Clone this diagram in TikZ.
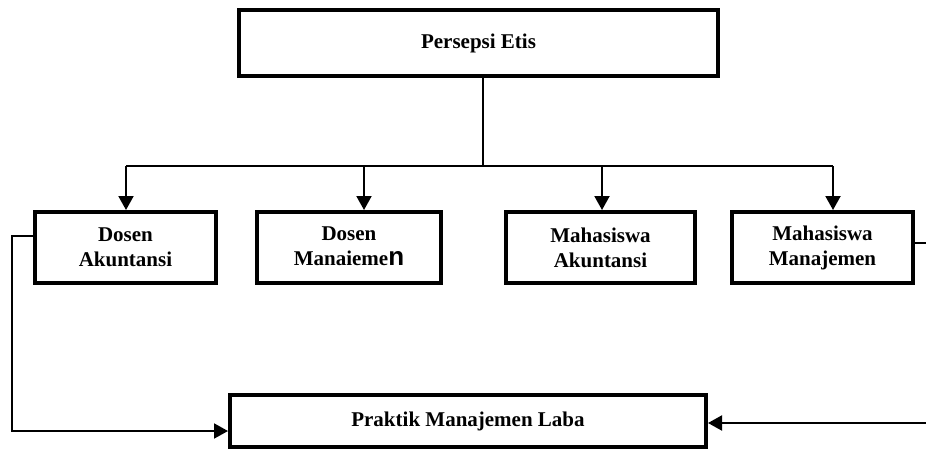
\documentclass[tikz,border=0pt]{standalone}
\usepackage{fontspec}
\setmainfont{Liberation Serif}
\newfontfamily\arialfont{Liberation Sans}
\usetikzlibrary{arrows.meta}
\tikzset{
  >={Triangle[length=14pt,width=15pt]},
  {base box/.style} ={draw, rectangle, line width=4pt, align=center,
                inner sep=0, font=\fontsize{21}{25}\selectfont\bfseries},
  {group box/.style} ={base box, minimum width=#1, minimum height=71pt},
  {link/.style} ={line width=2pt},
}

\begin{document}
\begin{tikzpicture}[x=1pt,y=-1pt]
\useasboundingbox (0,0) rectangle (926,450);
\node[base box, minimum width=479pt, minimum height=66pt] (etis) at (478.5,43) {Persepsi Etis};
\node[group box=181pt] (dosenak) at (125.5,247.5) {Dosen\\Akuntansi};
\node[group box=184pt, text depth=3pt] (dosenman) at (349,247.5) {Dosen\\Manaieme\smash{\arialfont\fontsize{26}{25}\selectfont n}};
\node[group box=189pt] (mhsak) at (600.5,247.5) {Mahasiswa\\Akuntansi};
\node[group box=181pt] (mhsman) at (822.5,247.5) {Mahasiswa\\Manajemen};
\node[base box, minimum width=476pt, minimum height=52pt] (laba) at (468,421) {Praktik Manajemen Laba};
% bus from Persepsi Etis
\coordinate (bus) at (483,166);
\coordinate (b1) at (126,166);
\coordinate (b2) at (364,166);
\coordinate (b3) at (602,166);
\coordinate (b4) at (833,166);
\draw[link] (etis.south -| bus) -- (bus);
\draw[link] (b1) -- (b4);
\foreach \c/\n in {b1/dosenak, b2/dosenman, b3/mhsak, b4/mhsman}
  \draw[link,->] (\c) -- (\c |- \n.north);
% side links to Praktik Manajemen Laba
\coordinate (ltop) at (12,236);
\coordinate (lbot) at (12,431);
\coordinate (rtop) at (926,243);
\coordinate (rbot) at (926,423);
\draw[link,->] (dosenak.west |- ltop) -- (ltop) -- (lbot) -- (laba.west |- lbot);
\draw[link] (mhsman.east |- rtop) -- (rtop);
\draw[link,->] (rbot) -- (laba.east |- rbot);
\end{tikzpicture}
\end{document}
